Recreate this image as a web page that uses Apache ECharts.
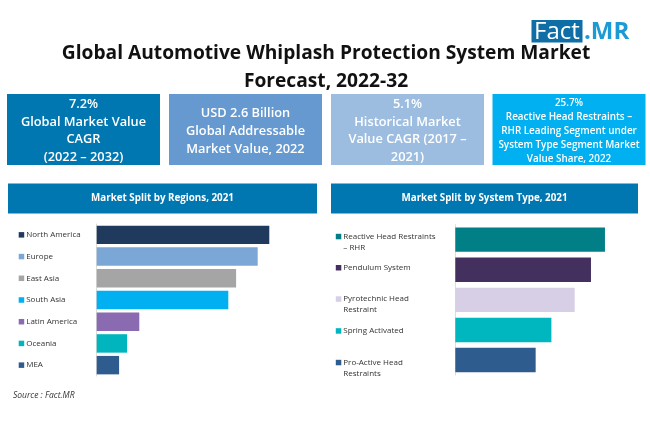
<!DOCTYPE html>
<html>
<head>
<meta charset="utf-8">
<style>
  html, body { margin: 0; padding: 0; background: #fff; }
  #chart { width: 650px; height: 443px; }
</style>
<script src="https://cdn.jsdelivr.net/npm/echarts@6/dist/echarts.min.js"></script>
</head>
<body>
<div id="chart"></div>
<script>
const regionNames = ['North America', 'Europe', 'East Asia', 'South Asia', 'Latin America', 'Oceania', 'MEA']
const regionValues = [86.3, 80.5, 69.7, 65.8, 21.3, 15.2, 11.2]
const regionColors = ['#1f3a5c', '#7ba7d7', '#a5a5a5', '#00b0f0', '#8a6bb1', '#00b5bd', '#2e5c8e']

const typeNames = ['Reactive Head Restraints\n– RHR', 'Pendulum System', 'Pyrotechnic Head\nRestraint', 'Spring Activated', 'Pro-Active Head\nRestraints']
const typeValues = [25.7, 23.3, 20.5, 16.5, 13.8]
const typeColors = ['#007f86', '#44305f', '#d6cfe5', '#00b6bf', '#2e5c8e']

// the right hand labels sit a little off the bar centre in the original
const regionLabelShift = [0, 0, 0, 0, 0, 0, 0]
const typeLabelShift = [2.4, -2, 4.7, 1, 8]

const boxes = [
    { x: 7, color: '#0077b0', size: 12.8, lh: 17.7, lines: ['7.2%', 'Global Market Value', 'CAGR', '(2022 – 2032)'] },
    { x: 169, color: '#6699cf', size: 12.8, lh: 18, lines: ['USD 2.6 Billion', 'Global Addressable', 'Market Value, 2022'] },
    { x: 331, color: '#9dbde0', size: 12.8, lh: 17.7, lines: ['5.1%', 'Historical Market', 'Value CAGR (2017 –', '2021)'] },
    { x: 492.5, color: '#00b0f0', size: 9.9, lh: 14, lines: ['25.7%', 'Reactive Head Restraints –', 'RHR Leading Segment under', 'System Type Segment Market', 'Value Share, 2022'] }
]

const font = '"Open Sans", "Noto Sans", sans-serif'

function labelRich(colors, shifts) {
    const rich = {
        t: { fontSize: 8, lineHeight: 11, color: '#333333', fontFamily: font, padding: [0, 0, 0, 2] },
        i: { fontSize: 8, lineHeight: 11, color: '#333333', fontFamily: font, padding: [0, 0, 0, 7.5] }
    }
    colors.forEach((c, i) => {
        rich['m' + i] = { width: 5.5, height: 5.5, backgroundColor: c }
        // spacer line above or below the label moves the centred block
        rich['s' + i] = { fontSize: 1, lineHeight: Math.abs(shifts[i]) * 2 }
    })
    return rich
}

function labelText(name, i, shifts) {
    const parts = name.split('\n')
    let s = '{m' + i + '|}{t|' + parts[0] + '}'
    if (parts[1]) s += '\n{i|' + parts[1] + '}'
    const spacer = '{s' + i + '|\u200b}'
    if (shifts[i] > 0) return spacer + '\n' + s
    if (shifts[i] < 0) return s + '\n' + spacer
    return s
}

function boxGraphic(b) {
    return [
        { type: 'rect', shape: { x: b.x, y: 94, width: 153, height: 71 }, style: { fill: b.color } },
        {
            type: 'text', x: b.x + 76.5, y: 131,
            style: {
                text: b.lines.join('\n'), fill: '#fff', align: 'center', verticalAlign: 'middle',
                font: '600 ' + b.size + 'px ' + font, lineHeight: b.lh
            }
        }
    ]
}

function headerGraphic(x, width, text) {
    return [
        { type: 'rect', shape: { x: x, y: 183.5, width: width, height: 30 }, style: { fill: '#0077b0' } },
        {
            type: 'text', x: x + width / 2, y: 198.5,
            style: { text: text, fill: '#fff', align: 'center', verticalAlign: 'middle', font: '700 9.8px ' + font }
        }
    ]
}

let chart = echarts.init(document.getElementById('chart'), null, { renderer: 'canvas' })

chart.setOption({
    animation: false,
    backgroundColor: '#fff',
    grid: [
        { left: 96.7, top: 224, width: 200, height: 152 },
        { left: 455.3, top: 224.6, width: 174.7, height: 150.5 }
    ],
    xAxis: [
        { gridIndex: 0, type: 'value', min: 0, max: 100, show: false },
        { gridIndex: 1, type: 'value', min: 0, max: 30, show: false }
    ],
    yAxis: [
        {
            gridIndex: 0, type: 'category', inverse: true, data: regionNames,
            axisTick: { show: false },
            axisLine: { lineStyle: { color: '#dddddd' } },
            axisLabel: {
                align: 'left', margin: 78, interval: 0,
                formatter: (v, i) => labelText(v, i, regionLabelShift),
                rich: labelRich(regionColors, regionLabelShift)
            }
        },
        {
            gridIndex: 1, type: 'category', inverse: true, data: typeNames,
            axisTick: { show: false },
            axisLine: { lineStyle: { color: '#dddddd' } },
            axisLabel: {
                align: 'left', margin: 119.5, interval: 0,
                formatter: (v, i) => labelText(v, i, typeLabelShift),
                rich: labelRich(typeColors, typeLabelShift)
            }
        }
    ],
    series: [
        {
            type: 'bar', xAxisIndex: 0, yAxisIndex: 0, barCategoryGap: '15%',
            data: regionValues.map((v, i) => ({ value: v, itemStyle: { color: regionColors[i] } }))
        },
        {
            type: 'bar', xAxisIndex: 1, yAxisIndex: 1, barCategoryGap: '19%',
            data: typeValues.map((v, i) => ({ value: v, itemStyle: { color: typeColors[i] } }))
        }
    ],
    graphic: [
        { type: 'rect', shape: { x: 531.5, y: 20, width: 51, height: 22.5 }, style: { fill: '#0f6ea5' } },
        { type: 'text', x: 534, y: 32.5, style: { text: 'Fact', fill: '#fff', verticalAlign: 'middle', font: '400 24px ' + font } },
        { type: 'text', x: 584, y: 32.5, style: { text: '.MR', fill: '#1b9ad6', verticalAlign: 'middle', font: '700 24px ' + font } },
        { type: 'text', x: 326, y: 54, style: { text: 'Global Automotive Whiplash Protection System Market', fill: '#111', align: 'center', verticalAlign: 'middle', font: '700 19.2px ' + font } },
        { type: 'text', x: 326, y: 82, style: { text: 'Forecast, 2022-32', fill: '#111', align: 'center', verticalAlign: 'middle', font: '700 19.2px ' + font } },
        ...boxes.flatMap(boxGraphic),
        ...headerGraphic(8, 309, 'Market Split by Regions, 2021'),
        ...headerGraphic(331, 307, 'Market Split by System Type, 2021'),
        { type: 'text', x: 13, y: 396, style: { text: 'Source : Fact.MR', fill: '#333', verticalAlign: 'middle', font: 'italic 400 8.5px ' + font } }
    ]
})
</script>
</body>
</html>
